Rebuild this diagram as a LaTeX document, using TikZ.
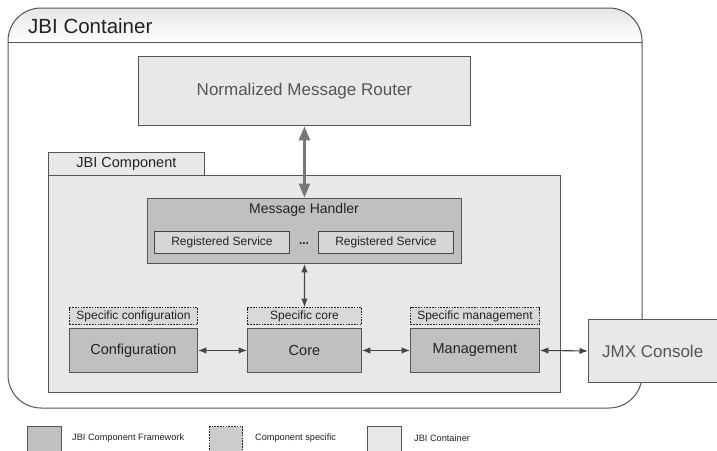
\documentclass[tikz,border=0pt]{standalone}
\usepackage{fontspec}
\setmainfont{Liberation Sans}
\usetikzlibrary{arrows.meta}
\definecolor{lightfill}{HTML}{E8E8E8}
\definecolor{darkfill}{HTML}{C0C0C0}
\definecolor{midfill}{HTML}{D6D6D6}
\definecolor{specfill}{HTML}{D9D9D9}
\definecolor{edgecol}{HTML}{555555}
\definecolor{softtext}{HTML}{555555}
\definecolor{maintext}{HTML}{222222}
\definecolor{arrowgray}{HTML}{777777}
\definecolor{arrowdark}{HTML}{444444}
\newcommand{\fs}[1]{\fontsize{#1}{#1}\selectfont}
\tikzset{
  box/.style={draw=edgecol, line width=0.9pt, inner sep=0pt, anchor=north west, text=maintext},
  lightbox/.style={box, fill=lightfill},
  darkbox/.style={box, fill=darkfill},
  svcbox/.style={box, fill=midfill, draw=arrowdark},
  specbox/.style={box, fill=specfill, draw=maintext, line width=1pt, dash pattern=on 1.6pt off 1.2pt},
  bigarrow/.style={draw=arrowgray, line width=2.6pt, {Triangle[length=14pt,width=11pt]}-{Triangle[length=14pt,width=11pt]}, shorten <=0.5pt, shorten >=0.5pt},
  smallarrow/.style={draw=arrowdark, line width=1.1pt, {Latex[length=8.5pt,width=6.5pt]}-{Latex[length=8.5pt,width=6.5pt]}},
  legendtext/.style={anchor=west, inner sep=0pt, text=maintext, font=\fs{9.2}}
}
\begin{document}
\begin{tikzpicture}[x=1pt,y=-1pt]
\useasboundingbox (0,0) rectangle (717,450);
% container
\begin{scope}
  \clip[rounded corners=33] (8,408) -- (8,8) -- (642,8) -- (642,408) -- cycle;
  \fill[white] (8,8) rectangle (642,408);
  \shade[top color=black!10, bottom color=white] (8,8) rectangle (642,42);
\end{scope}
\draw[edgecol, line width=1pt] (8,42) -- (642,42);
\draw[edgecol, line width=1pt, rounded corners=33] (8,408) -- (8,8) -- (642,8) -- (642,408) -- cycle;
\node[anchor=west, inner sep=0pt, text=maintext, font=\fs{20.5}] (ctitle) at (28,26) {JBI Container};

% router
\node[lightbox, minimum width=332pt, minimum height=69pt, text=softtext, font=\fs{17}] (nmr) at (138,56) {Normalized Message Router};

% component
\node[lightbox, minimum width=156pt, minimum height=23pt, font=\fs{14.5}] (tab) at (48,152) {JBI Component};
\node[lightbox, minimum width=512pt, minimum height=217pt] (comp) at (48,175) {};

% message handler
\node[darkbox, minimum width=314pt, minimum height=65pt] (mh) at (147,198) {};
\node[inner sep=0pt, text=maintext, font=\fs{14}] (mhl) at (304,210) {Message Handler};
\node[svcbox, minimum width=135pt, minimum height=22pt, font=\fs{12}] (rs1) at (154,231) {Registered Service};
\node[svcbox, minimum width=135pt, minimum height=22pt, font=\fs{12}] (rs2) at (318,231) {Registered Service};
\node[inner sep=0pt, text=maintext, font=\fs{12}\bfseries] (dots) at (304,244) {...};

% specific boxes
\node[specbox, minimum width=128pt, minimum height=17pt, font=\fs{12}] (sc1) at (69,307) {Specific configuration};
\node[specbox, minimum width=114pt, minimum height=17pt, font=\fs{12}] (sc2) at (247,307) {Specific core};
\node[specbox, minimum width=129pt, minimum height=17pt, font=\fs{12}] (sc3) at (410,307) {Specific management};

% framework boxes
\node[darkbox, minimum width=128pt, minimum height=44pt, font=\fs{14.5}] (cfg) at (69,328) {Configuration};
\node[darkbox, minimum width=114pt, minimum height=44pt, font=\fs{14.5}] (core) at (247,328) {Core};
\node[darkbox, minimum width=129pt, minimum height=44pt, font=\fs{14.5}] (mgmt) at (410,328) {Management};

% JMX console
\node[lightbox, minimum width=128.5pt, minimum height=63pt, text=softtext, font=\fs{17}] (jmx) at (588,319) {JMX Console};

% arrows
\draw[bigarrow] (nmr.south) -- (mh.north);
\draw[smallarrow] (mh.south) -- (sc2.north);
\draw[smallarrow] (cfg.east) -- (core.west);
\draw[smallarrow] (core.east) -- (mgmt.west);
\draw[smallarrow] (mgmt.east) -- (jmx.west);

% legend
\node[darkbox, minimum width=34pt, minimum height=30pt] (lg1) at (27,426) {};
\node[legendtext] (lt1) at (72,438) {JBI Component Framework};
\node[specbox, fill=black!20, minimum width=33pt, minimum height=30pt] (lg2) at (209,426) {};
\node[legendtext] (lt2) at (255,438) {Component specific};
\node[lightbox, minimum width=34pt, minimum height=30pt] (lg3) at (367,426) {};
\node[legendtext] (lt3) at (414,438) {JBI Container};
\end{tikzpicture}
\end{document}
